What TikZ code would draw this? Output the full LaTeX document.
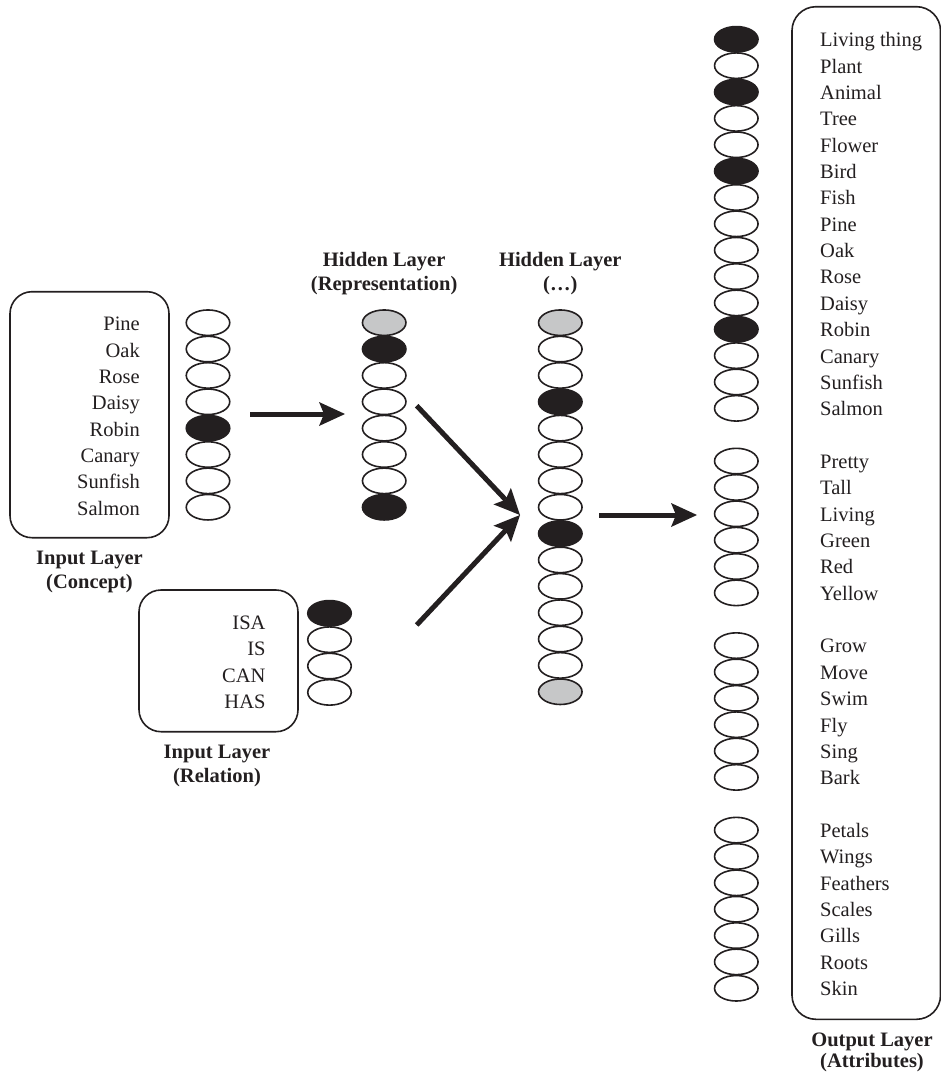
\documentclass[tikz,border=0pt]{standalone}
\usepackage{fontspec}
\setmainfont{Liberation Serif}
\usetikzlibrary{shapes.geometric,arrows.meta}
\definecolor{ink}{HTML}{231F20}
\definecolor{lgray}{HTML}{C6C7C8}
\begin{document}
\begin{tikzpicture}[x=1pt,y=-1pt,
  neuron/.style={ellipse,draw=ink,line width=1.6pt,minimum width=43.5pt,minimum height=25.5pt,inner sep=0pt},
  lbl/.style={text=ink,font=\fontsize{20.5}{24}\selectfont,inner sep=0pt},
  head/.style={text=ink,font=\fontsize{20.5}{24}\selectfont\bfseries,inner sep=0pt,anchor=base},
  layerbox/.style={draw=ink,line width=1.6pt,rounded corners=22pt},
  bigarrow/.style={draw=ink,line width=5pt,-{Stealth[length=26pt,width=24pt,inset=5pt,line width=0pt]}}
]
\useasboundingbox (0,0) rectangle (941,1074);
\def\sp{26.36}

% ---------- Input layer (Concept)
\draw[layerbox] (10,291.7) rectangle (169,537.7);
\foreach \c/\t [count=\i from 0] in {white/Pine,white/Oak,white/Rose,white/Daisy,ink/Robin,white/Canary,white/Sunfish,white/Salmon}{
  \node[neuron,fill=\c] (c\i) at (208,322.7+\i*\sp) {};
  \node[lbl,anchor=base east] (cl\i) at (140,330.7+\i*\sp) {\t};
}
\node[head] (cin1) at (89.5,564) {Input Layer};
\node[head] (cin2) at (89.5,588.3) {(Concept)};

% ---------- Input layer (Relation)
\draw[layerbox] (139,590) rectangle (298,731.7);
\foreach \c/\t [count=\i from 0] in {ink/ISA,white/IS,white/CAN,white/HAS}{
  \node[neuron,fill=\c] (rl\i) at (329.5,613.3+\i*\sp) {};
  \node[lbl,anchor=base east] (rt\i) at (265.7,629.3+\i*\sp) {\t};
}
\node[head] (rin1) at (217,758.3) {Input Layer};
\node[head] (rin2) at (217,782.7) {(Relation)};

% ---------- Hidden layer (Representation)
\foreach \c [count=\i from 0] in {lgray,ink,white,white,white,white,white,ink}{
  \node[neuron,fill=\c] (h\i) at (384.2,322.7+\i*\sp) {};
}
\node[head] (hr1) at (384.2,266) {Hidden Layer};
\node[head] (hr2) at (384.2,290) {(Representation)};

% ---------- Hidden layer (...)
\foreach \c [count=\i from 0] in {lgray,white,white,ink,white,white,white,white,ink,white,white,white,white,white,lgray}{
  \node[neuron,fill=\c] (g\i) at (560.3,322.7+\i*\sp) {};
}
\node[head] (hh1) at (560.3,266) {Hidden Layer};
\node[head] (hh2) at (560.3,290) {(\ldots)};

% ---------- Output layer (Attributes)
\draw[layerbox,rounded corners=24pt] (792,6.7) rectangle (940.5,1019.3);
\foreach \c/\t [count=\i from 0] in {ink/Living thing,white/Plant,ink/Animal,white/Tree,white/Flower,ink/Bird,white/Fish,white/Pine,white/Oak,white/Rose,white/Daisy,ink/Robin,white/Canary,white/Sunfish,white/Salmon}{
  \node[neuron,fill=\c] (oa\i) at (736.3,39.3+\i*\sp) {};
  \node[lbl,anchor=base west] (ta\i) at (820,46.7+\i*\sp) {\t};
}
\foreach \t [count=\i from 0] in {Pretty,Tall,Living,Green,Red,Yellow}{
  \node[neuron,fill=white] (ob\i) at (736.3,39.3+16*\sp+\i*\sp) {};
  \node[lbl,anchor=base west] (tb\i) at (820,46.7+16*\sp+\i*\sp) {\t};
}
\foreach \t [count=\i from 0] in {Grow,Move,Swim,Fly,Sing,Bark}{
  \node[neuron,fill=white] (oc\i) at (736.3,39.3+23*\sp+\i*\sp) {};
  \node[lbl,anchor=base west] (tc\i) at (820,46.7+23*\sp+\i*\sp) {\t};
}
\foreach \t [count=\i from 0] in {Petals,Wings,Feathers,Scales,Gills,Roots,Skin}{
  \node[neuron,fill=white] (od\i) at (736.3,39.3+30*\sp+\i*\sp) {};
  \node[lbl,anchor=base west] (td\i) at (820,46.7+30*\sp+\i*\sp) {\t};
}
\node[head] (out1) at (872,1046) {Output Layer};
\node[head] (out2) at (872,1067.3) {(Attributes)};

% ---------- Arrows
\coordinate (a1s) at (250,414);
\coordinate (a1e) at (345,414);
\coordinate (a2s) at (416.7,405.7);
\coordinate (a3s) at (416.7,625);
\coordinate (a2e) at (520,515);
\coordinate (a4s) at (599,515);
\coordinate (a4e) at (697,515);
\draw[bigarrow] (a1s) -- (a1e);
\draw[bigarrow] (a2s) -- (a2e);
\draw[bigarrow] (a3s) -- (a2e);
\draw[bigarrow] (a4s) -- (a4e);
\end{tikzpicture}
\end{document}
